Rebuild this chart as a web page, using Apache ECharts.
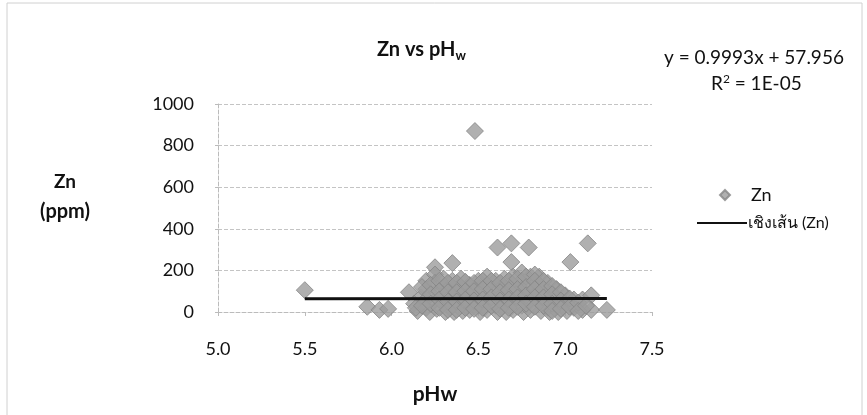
<!DOCTYPE html>
<html>
<head>
<meta charset="utf-8">
<title>Zn vs pHw</title>
<script src="https://cdn.jsdelivr.net/npm/echarts@6/dist/echarts.min.js"></script>
<style>
  html, body { margin: 0; padding: 0; background: #fff; }
  #chart { width: 867px; height: 415px; }
</style>
</head>
<body>
<div id="chart"></div>
<script>
// Zn (ppm) against pHw
var znPoints = [
  [5.50, 105], [5.86, 25], [5.93, 10], [5.98, 15], [6.10, 95],
  [6.13, 40], [6.15, 5], [6.17, 70], [6.14, 20],
  [6.20, 150], [6.20, 110], [6.20, 60], [6.20, 20], [6.22, 0],
  [6.25, 215], [6.25, 180], [6.25, 140], [6.26, 95], [6.25, 55], [6.26, 15],
  [6.30, 160], [6.30, 120], [6.30, 80], [6.30, 40], [6.31, 0],
  [6.35, 235], [6.35, 150], [6.35, 110], [6.35, 70], [6.35, 30], [6.36, 0],
  [6.40, 160], [6.40, 120], [6.40, 80], [6.40, 40], [6.41, 5],
  [6.45, 130], [6.45, 90], [6.45, 50], [6.45, 10],
  [6.48, 870],
  [6.50, 150], [6.50, 110], [6.50, 70], [6.50, 30], [6.51, 0],
  [6.55, 170], [6.55, 130], [6.55, 90], [6.55, 50], [6.55, 10],
  [6.61, 310], [6.60, 150], [6.60, 110], [6.60, 70], [6.60, 30], [6.61, 0],
  [6.65, 160], [6.65, 120], [6.65, 80], [6.65, 40], [6.66, 0],
  [6.69, 330], [6.69, 240],
  [6.70, 170], [6.70, 130], [6.70, 90], [6.70, 50], [6.70, 10],
  [6.75, 190], [6.75, 150], [6.75, 110], [6.75, 70], [6.75, 30], [6.76, 0],
  [6.79, 310],
  [6.80, 170], [6.80, 130], [6.80, 90], [6.80, 50], [6.80, 10],
  [6.85, 170], [6.85, 130], [6.85, 90], [6.85, 50], [6.86, 5],
  [6.90, 140], [6.90, 100], [6.90, 60], [6.90, 20], [6.91, 0],
  [6.95, 110], [6.95, 70], [6.95, 30], [6.96, 0],
  [7.00, 80], [7.00, 40], [7.01, 5],
  [7.03, 240],
  [7.05, 60], [7.05, 20],
  [7.10, 60], [7.10, 10],
  [7.13, 330],
  [7.15, 80], [7.15, 10],
  [7.24, 10],
  // second, staggered layer of the dense cluster
  [6.175, 120], [6.175, 30], [6.225, 130], [6.225, 85], [6.225, 40],
  [6.275, 150], [6.275, 100], [6.275, 60], [6.275, 20],
  [6.325, 140], [6.325, 95], [6.325, 50], [6.325, 10],
  [6.375, 140], [6.375, 95], [6.375, 50], [6.375, 10],
  [6.425, 145], [6.425, 100], [6.425, 60], [6.425, 20],
  [6.475, 140], [6.475, 100], [6.475, 55], [6.475, 15],
  [6.525, 150], [6.525, 110], [6.525, 60], [6.525, 20],
  [6.575, 150], [6.575, 110], [6.575, 70], [6.575, 30],
  [6.625, 140], [6.625, 95], [6.625, 55], [6.625, 15],
  [6.675, 150], [6.675, 105], [6.675, 60], [6.675, 20],
  [6.725, 160], [6.725, 110], [6.725, 70], [6.725, 25],
  [6.775, 170], [6.775, 120], [6.775, 80], [6.775, 40],
  [6.825, 180], [6.825, 150], [6.825, 110], [6.825, 70], [6.825, 25],
  [6.875, 150], [6.875, 110], [6.875, 70], [6.875, 30],
  [6.925, 125], [6.925, 85], [6.925, 40], [6.925, 5],
  [6.975, 95], [6.975, 55], [6.975, 15],
  [7.025, 65], [7.025, 25], [7.075, 45], [7.075, 5], [7.12, 30]
]

// linear trend line ends (y = 0.9993x + 57.956)
var trendPoints = [[5.50, 63.45], [7.24, 65.19]]

var equationLines = ['y = 0.9993x + 57.956', 'R{sup|2} = 1E-05']
var yNameLines = ['Zn', '(ppm)']

var FONT = 'Lato, "Open Sans", sans-serif'
var chart = echarts.init(document.getElementById('chart'))

var option = {
  backgroundColor: '#fff',
  animation: false,
  textStyle: { fontFamily: FONT },
  title: {
    text: 'Zn vs pH{sub|w}',
    left: 372,
    top: 32,
    textStyle: {
      fontSize: 20,
      fontWeight: 'bold',
      color: '#111',
      fontFamily: FONT,
      rich: {
        sub: { fontSize: 13, fontWeight: 'bold', color: '#111', padding: [12, 0, 0, 0], fontFamily: FONT }
      }
    }
  },
  grid: { left: 218, right: 215, top: 104, bottom: 103 },
  legend: [
    {
      data: [{ name: 'Zn', icon: 'diamond' }],
      left: 714,
      top: 181,
      itemWidth: 10,
      itemHeight: 10,
      itemGap: 20,
      textStyle: { fontSize: 18, color: '#111', fontFamily: FONT, padding: [0, 0, 0, 16] }
    },
    {
      data: [{ name: 'เชิงเส้น (Zn)', icon: 'rect' }],
      left: 692,
      top: 210,
      itemWidth: 50,
      itemHeight: 2,
      itemGap: 4,
      textStyle: { fontSize: 16, color: '#111', fontFamily: FONT, padding: [0, 0, 0, -4] }
    }
  ],
  xAxis: {
    type: 'value',
    min: 5,
    max: 7.5,
    interval: 0.5,
    name: 'pHw',
    nameLocation: 'middle',
    nameGap: 72,
    nameTextStyle: { fontSize: 21, fontWeight: 'bold', color: '#111' },
    axisLine: { lineStyle: { color: '#bbb', type: 'dashed' } },
    axisTick: { show: true, length: 4, lineStyle: { color: '#bbb' } },
    axisLabel: {
      fontSize: 18,
      color: '#111',
      margin: 28,
      formatter: function (v) { return v.toFixed(1) }
    },
    splitLine: { show: false }
  },
  yAxis: {
    type: 'value',
    min: 0,
    max: 1000,
    interval: 200,
    axisLine: { show: true, lineStyle: { color: '#bbb', type: 'dashed' } },
    axisTick: { show: true, length: 3, lineStyle: { color: '#bbb' } },
    axisLabel: {
      fontSize: 18,
      color: '#111',
      margin: 24,
      formatter: function (v) { return String(v) }
    },
    splitLine: { show: true, lineStyle: { color: '#c4c4c4', type: 'dashed', width: 1 } }
  },
  series: [
    {
      name: 'Zn',
      type: 'scatter',
      symbol: 'diamond',
      symbolSize: [17, 17],
      data: znPoints,
      itemStyle: { color: '#9c9c9c', borderColor: '#858585', borderWidth: 1 },
      z: 2
    },
    {
      name: 'เชิงเส้น (Zn)',
      type: 'line',
      data: trendPoints,
      symbol: 'none',
      lineStyle: { color: '#111', width: 3 },
      itemStyle: { color: '#111' },
      z: 3
    }
  ],
  graphic: [
    {
      type: 'rect',
      shape: { x: 7, y: 3, width: 855, height: 430 },
      style: { fill: 'none', stroke: '#d0d0d0', lineWidth: 1 },
      silent: true
    },
    {
      type: 'text',
      x: 65,
      y: 182,
      style: { text: yNameLines[0], fill: '#111', font: 'bold 19px ' + FONT, align: 'center', verticalAlign: 'middle' }
    },
    {
      type: 'text',
      x: 65,
      y: 212,
      style: { text: yNameLines[1], fill: '#111', font: 'bold 20px ' + FONT, align: 'center', verticalAlign: 'middle' }
    },
    {
      type: 'text',
      left: 664,
      top: 48,
      style: { text: equationLines[0], fill: '#111', font: '19px ' + FONT }
    },
    {
      type: 'text',
      left: 711,
      top: 73,
      style: {
        text: equationLines[1],
        fill: '#111',
        fontSize: 19,
        fontFamily: FONT,
        rich: { sup: { fontSize: 12, fill: '#111', padding: [0, 0, 9, 0], fontFamily: FONT } }
      }
    }
  ]
}

chart.setOption(option)
</script>
</body>
</html>
